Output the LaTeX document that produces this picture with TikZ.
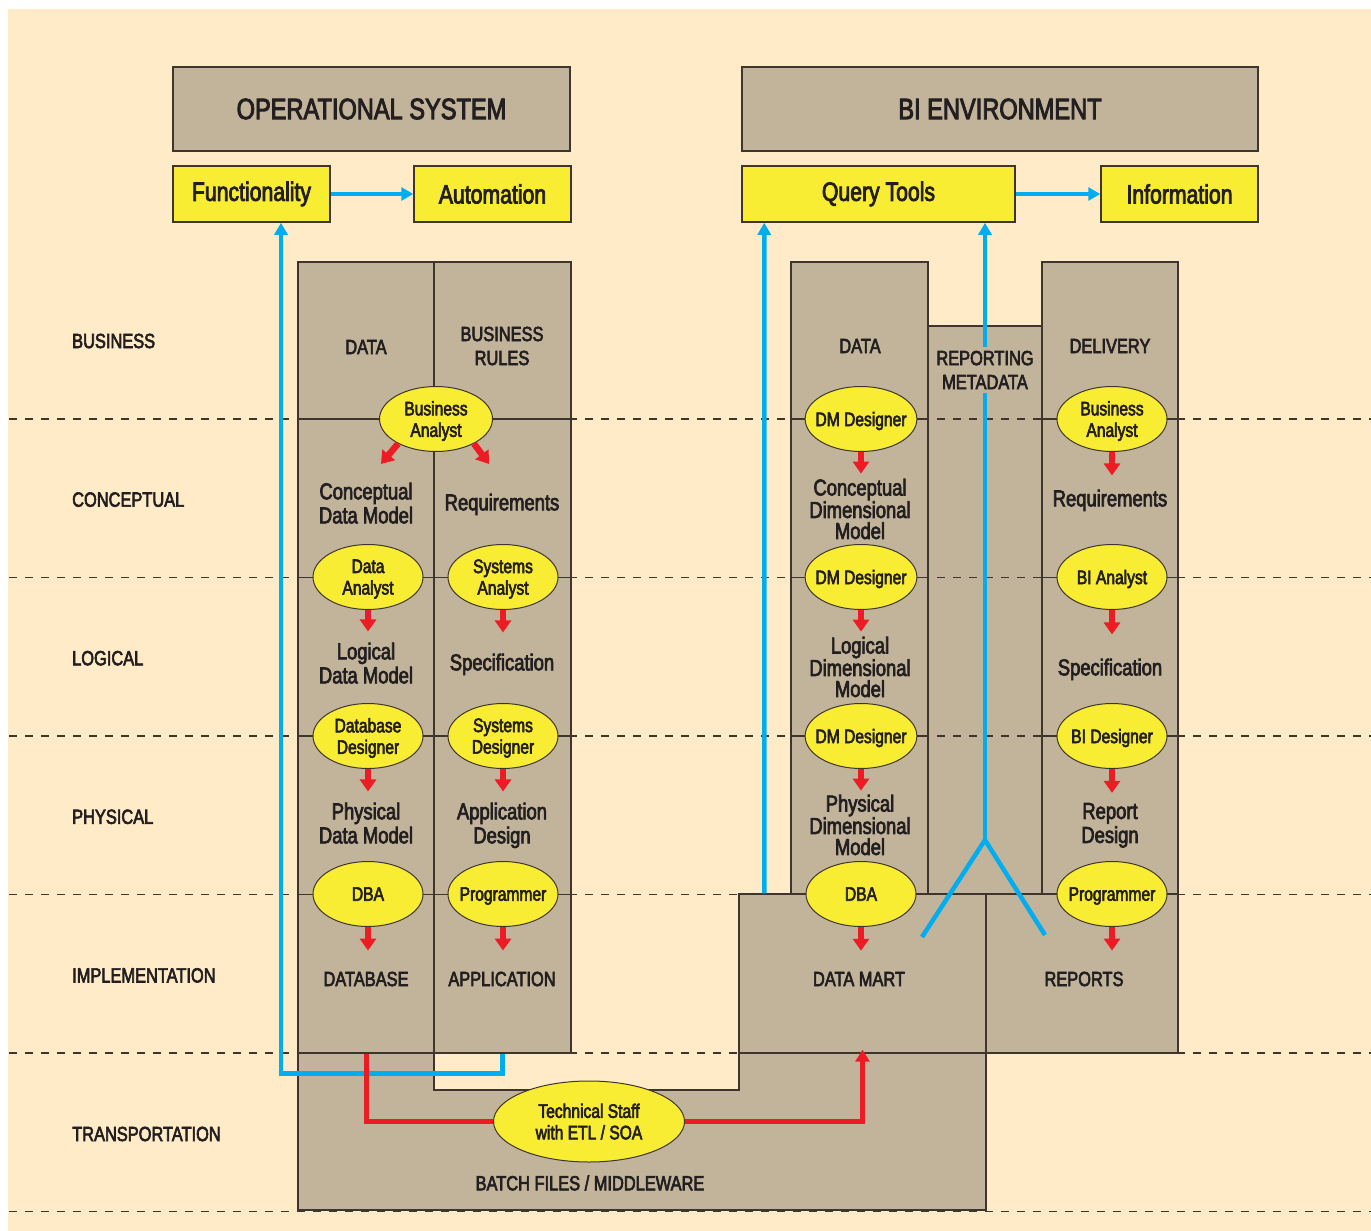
\documentclass[tikz,border=0pt]{standalone}
\usepackage{fontspec}
\setmainfont{Liberation Sans}[FakeStretch=0.8,FakeBold=3]
\usetikzlibrary{shapes.geometric,arrows.meta,calc}

\definecolor{cream}{RGB}{255,235,199}
\definecolor{boxgray}{RGB}{194,180,154}
\definecolor{roleyellow}{RGB}{248,237,50}
\definecolor{sky}{RGB}{0,174,239}
\definecolor{alert}{RGB}{237,28,36}
\definecolor{edge}{RGB}{62,54,46}
\definecolor{ink}{RGB}{35,31,32}

\newcommand{\fTitle}{\fontsize{29.5pt}{32pt}\selectfont}
\newcommand{\fHead}{\fontsize{26.5pt}{30pt}\selectfont}
\newcommand{\fCaps}{\fontsize{20.5pt}{24pt}\selectfont}
\newcommand{\fItem}{\fontsize{23pt}{24pt}\selectfont}
\newcommand{\fDim}{\fontsize{23pt}{21pt}\selectfont}
\newcommand{\fRole}{\fontsize{19.5pt}{21.5pt}\selectfont}

\begin{document}
\begin{tikzpicture}[x=1pt,y=-1pt,text=ink,
  lane/.style={draw=edge,fill=boxgray,line width=1.3pt},
  banner/.style={draw=edge,fill=boxgray,line width=2pt,minimum width=#1,minimum height=84pt,font=\fTitle},
  goal/.style={draw=edge,fill=roleyellow,line width=1.5pt,minimum width=#1,minimum height=56pt,font=\fHead},
  role/.style={ellipse,draw=edge,fill=roleyellow,line width=1pt,minimum width=110pt,minimum height=65pt,
    inner xsep=-6pt,inner ysep=0pt,text depth=0pt,align=center,font=\fRole},
  item/.style={align=center,inner sep=2pt,text depth=0pt,font=\fItem},
  dim/.style={align=center,inner sep=2pt,font=\fDim},
  caps/.style={align=center,inner sep=2pt,font=\fCaps},
  tier/.style={anchor=west,inner sep=0pt,font=\fCaps},
  tierline/.style={draw=edge,line width=1.3pt,dash pattern=on 8pt off 8pt},
  rule/.style={draw=edge,line width=1.3pt},
  feed/.style={draw=sky,line width=4.5pt,-{Triangle[width=13pt,length=12pt]}},
  flow/.style={draw=alert,line width=6.5pt,-{Triangle[width=16pt,length=12pt]}},
  etl/.style={draw=alert,line width=5pt}]

  % page
  \fill[white] (0,0) rectangle (1371,1231);
  \fill[cream] (8,9) rectangle (1371,1231);
  \useasboundingbox (0,0) rectangle (1371,1231);

  % headers
  \node[banner=397pt] (opsys) at (371.5,109) {OPERATIONAL SYSTEM};
  \node[goal=157pt] (func) at (251.5,194) {Functionality};
  \node[goal=157pt] (auto) at (492.5,194) {Automation};
  \node[banner=516pt] (bienv) at (1000,109) {BI ENVIRONMENT};
  \node[goal=273pt] (query) at (878.5,194) {Query Tools};
  \node[goal=157pt] (info) at (1179.5,194) {Information};

  % lanes
  \draw[lane] (298,1053) -- (298,1210) -- (986,1210) -- (986,1053) -- (739,1053)
    -- (739,1090) -- (434,1090) -- (434,1053) -- cycle;
  \node[lane,minimum width=136pt,minimum height=791pt] (opdata) at (366,657.5) {};
  \node[lane,minimum width=137pt,minimum height=791pt] (oprules) at (502.5,657.5) {};
  \node[lane,minimum width=247pt,minimum height=159pt] (mart) at (862.5,973.5) {};
  \node[lane,minimum width=192pt,minimum height=159pt] (reports) at (1082,973.5) {};
  \node[lane,minimum width=137pt,minimum height=632pt] (bidata) at (859.5,578) {};
  \node[lane,minimum width=114pt,minimum height=568pt] (bimeta) at (985,610) {};
  \node[lane,minimum width=136pt,minimum height=632pt] (bidel) at (1110,578) {};

  % tiers
  \foreach \y in {419,577.5,736,894.5,1053,1211.5}
    \draw[tierline] (9,\y) -- (1371,\y);
  \foreach \y in {419,577.5,736,894.5}
    \draw[rule] (298,\y) -- (571,\y);
  \foreach \y in {419,577.5,736}{
    \draw[rule] (791,\y) -- (928,\y);
    \draw[rule] (1042,\y) -- (1178,\y);
  }
  \foreach \lbl [count=\i from 0] in {BUSINESS,CONCEPTUAL,LOGICAL,PHYSICAL,IMPLEMENTATION,TRANSPORTATION}
    \node[tier] (tier-\i) at (72,{341+158.6*\i}) {\lbl};

  % blue feeds
  \draw[feed] (func) -- (auto);
  \draw[feed] (query) -- (info);
  \draw[feed] (oprules.south) -- ++(0,20) -| ($(func.south)+(29.5,0)$);
  \draw[feed] ($(mart.north west)+(26,0)$) -- ($(query.south west)+(23,0)$);
  \coordinate (fork) at (985,840);
  \coordinate (fork-l) at (922,937);
  \coordinate (fork-r) at (1045,935);
  \draw[sky,line width=4.5pt] (fork-l) -- (fork) -- (fork-r);
  \draw[feed] (fork) -- (fork |- query.south);

  % lane texts
  \node[caps] (l-data) at (366,347) {DATA};
  \node[caps] (l-rules) at (502,346) {BUSINESS\\RULES};
  \node[item] (cdm) at (366,503) {Conceptual\\Data Model};
  \node[item] (req) at (502,502) {Requirements};
  \node[item] (ldm) at (366,663) {Logical\\Data Model};
  \node[item] (spec) at (502,662) {Specification};
  \node[item] (pdm) at (366,823) {Physical\\Data Model};
  \node[item] (appd) at (502,823) {Application\\Design};
  \node[caps] (dbase) at (366,979) {DATABASE};
  \node[caps] (appl) at (502,979) {APPLICATION};

  \node[caps] (r-data) at (860,346) {DATA};
  \node[caps,fill=boxgray,inner sep=4pt] (r-meta) at (985,370) {REPORTING\\METADATA};
  \node[caps] (r-del) at (1110,346) {DELIVERY};
  \node[dim] (cdim) at (860,509) {Conceptual\\Dimensional\\Model};
  \node[item] (req2) at (1110,498) {Requirements};
  \node[dim] (ldim) at (860,667) {Logical\\Dimensional\\Model};
  \node[item] (spec2) at (1110,667) {Specification};
  \node[dim] (pdim) at (860,825) {Physical\\Dimensional\\Model};
  \node[item] (rdes) at (1110,823) {Report\\Design};
  \node[caps] (dmart) at (859,979) {DATA MART};
  \node[caps] (rep) at (1084,979) {REPORTS};
  \node[caps] (batch) at (590,1183) {BATCH FILES / MIDDLEWARE};

  % roles
  \node[role,minimum width=113pt] (ba) at (436,419) {Business\\Analyst};
  \node[role] (da) at (368,577) {Data\\Analyst};
  \node[role] (sa) at (503,577) {Systems\\Analyst};
  \node[role] (dd) at (368,736) {Database\\Designer};
  \node[role] (sd) at (503,736) {Systems\\Designer};
  \node[role] (dba) at (368,894) {DBA};
  \node[role] (prog) at (503,894) {Programmer};

  \node[role] (dm1) at (861,419) {DM Designer};
  \node[role] (dm2) at (861,577) {DM Designer};
  \node[role] (dm3) at (861,736) {DM Designer};
  \node[role] (dba2) at (861,894) {DBA};
  \node[role] (ba2) at (1112,419) {Business\\Analyst};
  \node[role] (bia) at (1112,577) {BI Analyst};
  \node[role] (bid) at (1112,736) {BI Designer};
  \node[role] (prog2) at (1112,894) {Programmer};

  % transport
  \node[role,minimum width=191pt,minimum height=81pt] (tech) at (589,1121.5) {Technical Staff\\with ETL / SOA};
  \draw[etl] (opdata.south) |- (tech.west);
  \draw[etl,-{Triangle[width=14pt,length=12pt]},shorten >=-4pt] (tech.east) -| (mart.south);

  % red flows
  \coordinate (ba-l) at (381,464);
  \coordinate (ba-r) at (489,464);
  \draw[flow] (ba.213) -- (ba-l);
  \draw[flow] (ba.327) -- (ba-r);
  \foreach \a/\b/\s in {da/ldm/9pt,sa/spec/19pt,dd/pdm/9pt,sd/appd/9pt,dba/dbase/19pt,prog/appl/19pt,
      dm1/cdim/3pt,dm2/ldim/3pt,dm3/pdim/2pt,dba2/dmart/19pt,ba2/req2/12pt,bia/spec2/22pt,bid/rdes/8pt,prog2/rep/19pt}
    \draw[flow,shorten >=\s] (\a.south) -- (\a.south |- \b.north);

\end{tikzpicture}
\end{document}
